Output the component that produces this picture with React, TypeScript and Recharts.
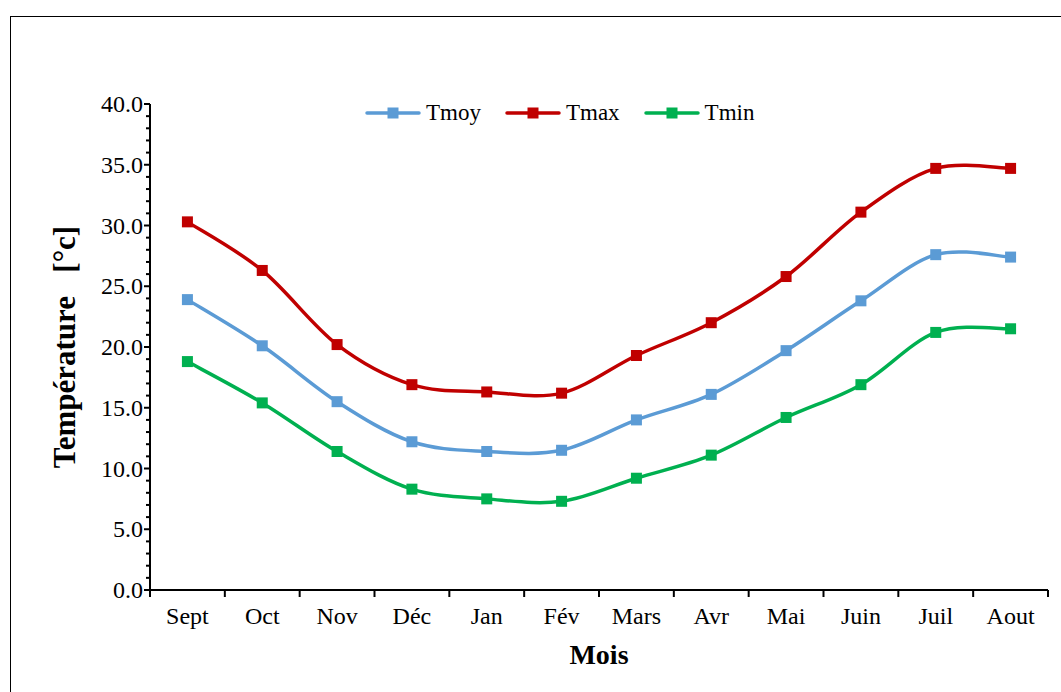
import React from 'react';
import { LineChart, Line, XAxis, YAxis, Legend } from 'recharts';

const months = ['Sept', 'Oct', 'Nov', 'Déc', 'Jan', 'Fév', 'Mars', 'Avr', 'Mai', 'Juin', 'Juil', 'Aout'];
const tmoy = [23.9, 20.1, 15.5, 12.2, 11.4, 11.5, 14.0, 16.1, 19.7, 23.8, 27.6, 27.4];
const tmax = [30.3, 26.3, 20.2, 16.9, 16.3, 16.2, 19.3, 22.0, 25.8, 31.1, 34.7, 34.7];
const tmin = [18.8, 15.4, 11.4, 8.3, 7.5, 7.3, 9.2, 11.1, 14.2, 16.9, 21.2, 21.5];

const yMajorTicks = [0, 5, 10, 15, 20, 25, 30, 35, 40];
const yAllTicks = Array.from({ length: 41 }, (_, i) => i);
const xTicks = Array.from({ length: 25 }, (_, i) => i / 2);

const data = months.map((m, i) => ({ x: i + 0.5, month: m, Tmoy: tmoy[i], Tmax: tmax[i], Tmin: tmin[i] }));

const COLORS = { Tmoy: '#5B9BD5', Tmax: '#C00000', Tmin: '#00B050' };
const FONT = '"Liberation Serif", "Times New Roman", serif';

// Excel-like smoothing (Catmull-Rom -> Bezier, control points at 1/6)
const excelCurve = (context: any) => {
  let pts: number[][] = [];
  return {
    areaStart() {},
    areaEnd() {},
    lineStart() { pts = []; },
    point(x: number, y: number) { pts.push([+x, +y]); },
    lineEnd() {
      const n = pts.length;
      if (!n) return;
      context.moveTo(pts[0][0], pts[0][1]);
      for (let i = 0; i < n - 1; i++) {
        const p0 = pts[i - 1] || pts[i];
        const p1 = pts[i];
        const p2 = pts[i + 1];
        const p3 = pts[i + 2] || p2;
        context.bezierCurveTo(
          p1[0] + (p2[0] - p0[0]) / 6, p1[1] + (p2[1] - p0[1]) / 6,
          p2[0] - (p3[0] - p1[0]) / 6, p2[1] - (p3[1] - p1[1]) / 6,
          p2[0], p2[1]
        );
      }
    },
  };
};

const makeDot = (color: string) => (props: any) => {
  const { cx, cy, index } = props;
  if (cx == null || cy == null) return <g key={index} />;
  return <rect key={index} x={cx - 5.5} y={cy - 5.5} width={11} height={11} fill={color} />;
};

const YTick = (props: any) => {
  const { x, y, payload } = props;
  const v = payload.value;
  const major = yMajorTicks.includes(v);
  return (
    <g>
      <line x1={x - (major ? 6 : 4)} x2={x} y1={y} y2={y} stroke="#000" strokeWidth={2} />
      {major && (
        <text x={x - 7} y={y} textAnchor="end" dominantBaseline="central" fontFamily={FONT} fontSize={24} fill="#000">
          {v.toFixed(1)}
        </text>
      )}
    </g>
  );
};

const XTick = (props: any) => {
  const { x, y, payload } = props;
  const v = payload.value;
  if (Number.isInteger(v)) {
    return <line x1={x} x2={x} y1={y} y2={y + 7} stroke="#000" strokeWidth={2} />;
  }
  return (
    <text x={x} y={y + 34} textAnchor="middle" fontFamily={FONT} fontSize={24} fill="#000">
      {months[Math.floor(v)]}
    </text>
  );
};

const LegendContent = (props: any) => {
  const items = ['Tmoy', 'Tmax', 'Tmin'];
  return (
    <div style={{ display: 'flex', alignItems: 'center', fontFamily: FONT, fontSize: 23, color: '#000' }}>
      {items.map((k) => (
        <div key={k} style={{ display: 'flex', alignItems: 'center', marginRight: 24 }}>
          <svg width={56} height={16} style={{ marginRight: 5 }}>
            <line x1={2} x2={54} y1={8} y2={8} stroke={(COLORS as any)[k]} strokeWidth={3.5} strokeLinecap="round" />
            <rect x={22.5} y={2.5} width={11} height={11} fill={(COLORS as any)[k]} />
          </svg>
          <span>{k}</span>
        </div>
      ))}
    </div>
  );
};

export default function App() {
  return (
    <div style={{ position: 'fixed', left: 0, top: 0, width: 1061, height: 692, overflow: 'hidden', background: '#fff' }}>
      <div style={{ position: 'absolute', left: 10, top: 16, width: 1100, height: 740, border: '1.5px solid #000', boxSizing: 'border-box' }} />
      <div style={{ position: 'absolute', left: 0, top: 0 }}>
        <LineChart width={1061} height={692} data={data} margin={{ top: 104, right: 13, left: 90, bottom: 42 }}>
          <XAxis
            dataKey="x"
            type="number"
            domain={[0, 12]}
            ticks={xTicks}
            interval={0}
            tick={<XTick />}
            tickLine={false}
            tickSize={0}
            tickMargin={0}
            height={60}
            axisLine={{ stroke: '#000', strokeWidth: 2 }}
            allowDecimals
            label={{
              content: (p: any) => {
                const vb = p.viewBox || {};
                return (
                  <text x={vb.x + vb.width / 2} y={vb.y + 74} textAnchor="middle" fontFamily={FONT} fontSize={28} fontWeight="bold" fill="#000">
                    Mois
                  </text>
                );
              },
            }}
          />
          <YAxis
            type="number"
            domain={[0, 40]}
            ticks={yAllTicks}
            interval={0}
            tick={<YTick />}
            tickLine={false}
            tickSize={0}
            tickMargin={0}
            width={60}
            axisLine={{ stroke: '#000', strokeWidth: 2 }}
            label={{
              content: (p: any) => {
                const vb = p.viewBox || {};
                const cy = vb.y + vb.height / 2;
                return (
                  <text
                    x={75}
                    y={cy}
                    transform={`rotate(-90, 75, ${cy})`}
                    textAnchor="middle"
                    fontFamily={FONT}
                    fontSize={31}
                    fontWeight="bold"
                    fill="#000"
                    style={{ whiteSpace: 'pre' }}
                  >
                    {'Température   [°c]'}
                  </text>
                );
              },
            }}
          />
          <Legend
            layout="vertical"
            align="center"
            verticalAlign="middle"
            content={<LegendContent />}
            wrapperStyle={{ position: 'absolute', left: 365, top: 100, width: 'auto' }}
          />
          <Line dataKey="Tmoy" stroke={COLORS.Tmoy} strokeWidth={3.5} type={excelCurve as any} dot={makeDot(COLORS.Tmoy)} activeDot={false} isAnimationActive={false} />
          <Line dataKey="Tmax" stroke={COLORS.Tmax} strokeWidth={3.5} type={excelCurve as any} dot={makeDot(COLORS.Tmax)} activeDot={false} isAnimationActive={false} />
          <Line dataKey="Tmin" stroke={COLORS.Tmin} strokeWidth={3.5} type={excelCurve as any} dot={makeDot(COLORS.Tmin)} activeDot={false} isAnimationActive={false} />
        </LineChart>
      </div>
    </div>
  );
}
